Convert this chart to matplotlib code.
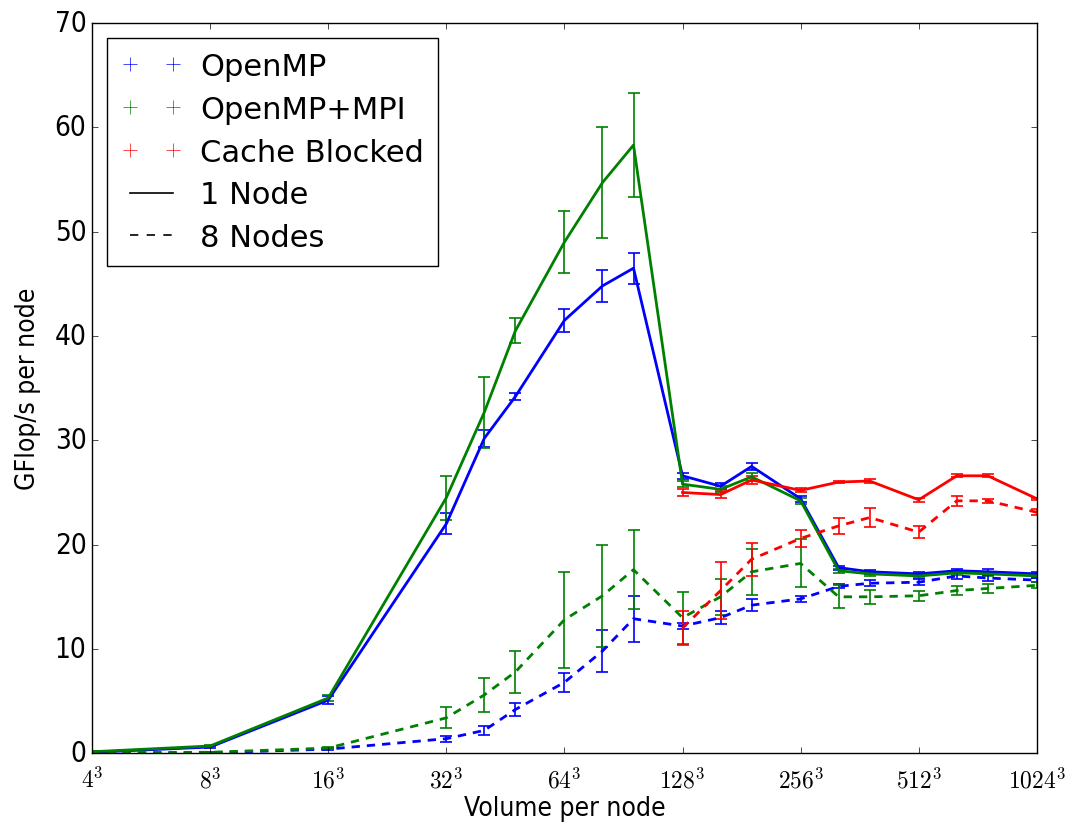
"""GFlop/s per node vs. volume per node, 1 and 8 nodes."""

import matplotlib

matplotlib.use("Agg")
import matplotlib.pyplot as plt
from matplotlib.lines import Line2D
from matplotlib.ticker import NullLocator
from matplotlib import font_manager

plt.style.use("classic")
plt.rcParams["mathtext.fontset"] = "cm"

# side length of the cube per node
sizes = [4, 8, 16, 32, 40, 48, 64, 80, 96, 128, 160, 192, 256, 320, 384, 512, 640, 768, 1024]
sizes_cb = [128, 160, 192, 256, 320, 384, 512, 640, 768, 1024]

omp_1 = [0.1, 0.6, 5.1, 22.0, 30.2, 34.2, 41.5, 44.8, 46.5, 26.6, 25.6, 27.5, 24.4, 17.8, 17.4, 17.2, 17.5, 17.4, 17.2]
omp_1_err = [0.05, 0.1, 0.4, 1.0, 0.8, 0.3, 1.1, 1.5, 1.5, 0.3, 0.3, 0.3, 0.3, 0.2, 0.2, 0.2, 0.2, 0.3, 0.2]
mpi_1 = [0.15, 0.7, 5.3, 24.5, 32.7, 40.5, 49.0, 54.7, 58.3, 25.8, 25.3, 26.5, 24.2, 17.5, 17.2, 17.0, 17.3, 17.2, 17.0]
mpi_1_err = [0.05, 0.1, 0.3, 2.1, 3.4, 1.2, 3.0, 5.3, 5.0, 0.3, 0.3, 0.4, 0.3, 0.2, 0.2, 0.2, 0.2, 0.2, 0.2]
cb_1 = [25.0, 24.8, 26.2, 25.2, 26.0, 26.1, 24.3, 26.6, 26.6, 24.4]
cb_1_err = [0.3, 0.3, 0.4, 0.2, 0.1, 0.2, 0.2, 0.15, 0.15, 0.1]

omp_8 = [0.0, 0.05, 0.4, 1.4, 2.2, 4.2, 6.8, 9.8, 12.9, 12.2, 13.0, 14.2, 14.8, 16.0, 16.3, 16.4, 17.0, 16.8, 16.6]
omp_8_err = [0.0, 0.05, 0.1, 0.3, 0.4, 0.6, 0.9, 2.0, 2.2, 0.3, 0.6, 0.6, 0.3, 0.2, 0.3, 0.3, 0.3, 0.3, 0.2]
mpi_8 = [0.05, 0.1, 0.5, 3.4, 5.6, 7.8, 12.8, 15.1, 17.6, 13.0, 15.0, 17.4, 18.2, 15.0, 15.0, 15.1, 15.6, 15.8, 16.1]
mpi_8_err = [0.0, 0.05, 0.1, 1.0, 1.6, 2.0, 4.6, 4.9, 3.8, 2.5, 1.7, 2.2, 2.3, 1.1, 0.7, 0.5, 0.4, 0.4, 0.3]
cb_8 = [12.0, 15.6, 18.6, 20.6, 21.8, 22.6, 21.2, 24.2, 24.2, 23.1]
cb_8_err = [1.6, 2.7, 1.6, 0.8, 0.8, 0.9, 0.6, 0.5, 0.2, 0.3]

tick_sizes = [4, 8, 16, 32, 64, 128, 256, 512, 1024]

# narrow face for the axis labels, as in the original
narrow = font_manager.FontProperties(family="DejaVu Sans", stretch="condensed", size=20)
narrow_lab = font_manager.FontProperties(family="DejaVu Sans", stretch="condensed", size=19)

fig = plt.figure(figsize=(10.7, 8.28), dpi=100, facecolor="white")
ax = fig.add_axes([0.086, 0.089, 0.883, 0.882])

series = [
    (sizes, omp_1, omp_1_err, "b", "-"),
    (sizes, mpi_1, mpi_1_err, "g", "-"),
    (sizes_cb, cb_1, cb_1_err, "r", "-"),
    (sizes, omp_8, omp_8_err, "b", "--"),
    (sizes, mpi_8, mpi_8_err, "g", "--"),
    (sizes_cb, cb_8, cb_8_err, "r", "--"),
]
for x, y, err, col, ls in series:
    ax.errorbar(x, y, yerr=err, color=col, ls=ls, lw=2, elinewidth=1.2,
                capsize=4, capthick=1.2, dashes=(6, 5) if ls == "--" else (None, None))

ax.set_xscale("log", base=2)
ax.set_xlim(4, 1024)
ax.set_ylim(0, 70)
ax.set_xticks(tick_sizes)
ax.set_xticklabels([r"$%d^3$" % s for s in tick_sizes], fontsize=17)
ax.xaxis.set_minor_locator(NullLocator())
for lab in ax.get_yticklabels():
    lab.set_fontproperties(narrow)
ax.tick_params(axis="x", pad=10)
ax.set_xlabel("Volume per node", fontproperties=narrow_lab, labelpad=2)
ax.set_ylabel("GFlop/s per node", fontproperties=narrow_lab, labelpad=10)

handles = [
    Line2D([], [], color="b", marker="+", ls="none", ms=10),
    Line2D([], [], color="g", marker="+", ls="none", ms=10),
    Line2D([], [], color="r", marker="+", ls="none", ms=10),
    Line2D([], [], color="k", ls="-", lw=1.2),
    Line2D([], [], color="k", ls="--", lw=1.2),
]
labels = ["OpenMP", "OpenMP+MPI", "Cache Blocked", "1 Node", "8 Nodes"]
ax.legend(handles, labels, loc="upper left", numpoints=2, fontsize=22,
          frameon=True, fancybox=False, borderpad=0.45, labelspacing=0.45,
          handlelength=2.0, handletextpad=0.6)

fig.savefig("out.png", dpi=100, facecolor="white")
